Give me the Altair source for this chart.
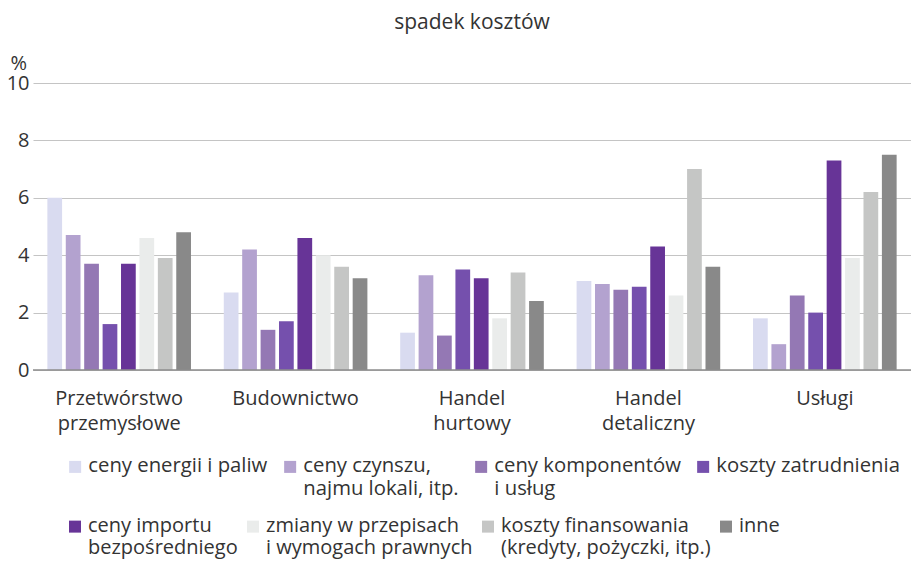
import altair as alt
import pandas as pd

sectors = ["Przetwórstwo\nprzemysłowe", "Budownictwo", "Handel\nhurtowy", "Handel\ndetaliczny", "Usługi"]
series = [
    "ceny energii i paliw",
    "ceny czynszu,\nnajmu lokali, itp.",
    "ceny komponentów\ni usług",
    "koszty zatrudnienia",
    "ceny importu\nbezpośredniego",
    "zmiany w przepisach\ni wymogach prawnych",
    "koszty finansowania\n(kredyty, pożyczki, itp.)",
    "inne",
]
colors = ["#d9dbf0", "#b3a2cf", "#9478b4", "#7550ad", "#673497", "#eaeceb", "#c5c6c5", "#898989"]

values = {
    "Przetwórstwo\nprzemysłowe": [6.0, 4.7, 3.7, 1.6, 3.7, 4.6, 3.9, 4.8],
    "Budownictwo": [2.7, 4.2, 1.4, 1.7, 4.6, 4.0, 3.6, 3.2],
    "Handel\nhurtowy": [1.3, 3.3, 1.2, 3.5, 3.2, 1.8, 3.4, 2.4],
    "Handel\ndetaliczny": [3.1, 3.0, 2.8, 2.9, 4.3, 2.6, 7.0, 3.6],
    "Usługi": [1.8, 0.9, 2.6, 2.0, 7.3, 3.9, 6.2, 7.5],
}

rows = []
for s in sectors:
    for i, name in enumerate(series):
        rows.append({"sektor": s, "seria": name, "idx": i, "wartosc": values[s][i]})
df = pd.DataFrame(rows)

FONT = "Open Sans"
TXT = "#333333"
SQUARE = "M-1,0.77L1,0.77L1,2.77L-1,2.77Z"

x_enc = alt.X("sektor:N", sort=sectors,
              scale=alt.Scale(paddingInner=0.165, paddingOuter=0.071),
              axis=alt.Axis(title=None, labelExpr="split(datum.value, '\\n')", labelAngle=0,
                            domain=False, ticks=False, labelFontSize=20, labelColor=TXT,
                            labelFont=FONT, labelLineHeight=25, labelPadding=18))
xo_enc = alt.XOffset("seria:N", sort=series,
                     scale=alt.Scale(domain=series, paddingInner=0.2, paddingOuter=0.1))
y_enc = alt.Y("wartosc:Q", scale=alt.Scale(domain=[0, 10]),
              axis=alt.Axis(values=[0, 2, 4, 6, 8, 10], title="%", titleAngle=0,
                            titleAlign="left", titleBaseline="alphabetic", titleX=-23, titleY=-14,
                            titleFontSize=20, titleFontWeight="normal", titleColor=TXT, titleFont=FONT,
                            domain=False, ticks=False, labelFontSize=20, labelColor=TXT,
                            labelFont=FONT, labelPadding=4, gridColor="#c4c4c4", gridWidth=1.2))


def legend(ly, fs, cp):
    return alt.Legend(title=None, orient="none", legendX=32, legendY=ly,
                      direction="horizontal", padding=0, columns=4,
                      labelExpr="split(indexof(datum.value, '\\n') < 0 ? datum.value + '\\n ' : datum.value, '\\n')",
                      symbolType=SQUARE, symbolSize=144, symbolStrokeWidth=0,
                      labelFontSize=fs, labelFont=FONT, labelColor=TXT,
                      labelLimit=0, columnPadding=cp, labelOffset=3, labelBaseline="top")


bars_a = alt.Chart(df[df["idx"] < 4]).mark_bar().encode(
    x=x_enc, xOffset=xo_enc, y=y_enc,
    color=alt.Color("seria:N", sort=series[:4],
                    scale=alt.Scale(domain=series[:4], range=colors[:4]),
                    legend=legend(363, 20.3, 12)),
)
bars_b = alt.Chart(df[df["idx"] >= 4]).mark_bar().encode(
    x=x_enc, xOffset=xo_enc, y=y_enc,
    fill=alt.Fill("seria:N", sort=series[4:],
                  scale=alt.Scale(domain=series[4:], range=colors[4:]),
                  legend=legend(423, 20, 5)),
)

zero = alt.Chart(pd.DataFrame({"y": [0]})).mark_rule(color="#8c8c8c", strokeWidth=1.5).encode(y="y:Q")

chart = alt.layer(bars_a, bars_b, zero).properties(
    width=878, height=287,
    title=alt.TitleParams("spadek kosztów", fontSize=21, fontWeight="normal", font=FONT,
                          color=TXT, anchor="middle", offset=20),
    autosize=alt.AutoSizeParams(type="none"),
    padding={"left": 25, "top": 75, "right": 0, "bottom": 189},
).configure_view(stroke=None)

chart.save("out.html", embed_options={"renderer": "svg", "actions": False})
